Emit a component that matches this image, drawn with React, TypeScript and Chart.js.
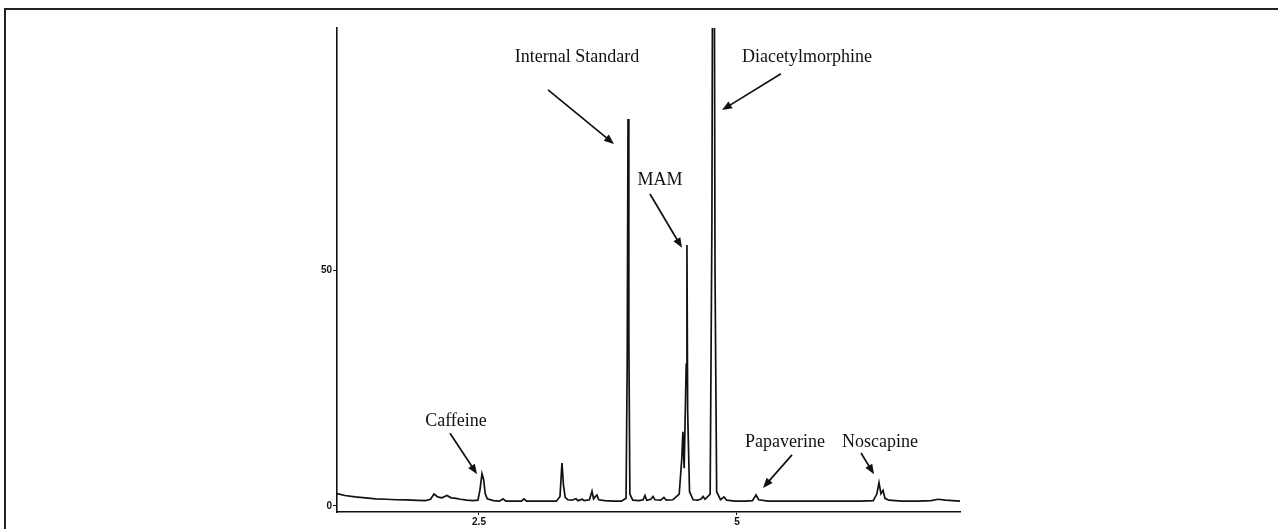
import React, { useEffect, useRef } from "react";
import { Chart, registerables } from "chart.js";

Chart.register(...registerables);

// Retention time (min) and detector response
const times = [
  1.124, 1.2, 1.3, 1.4, 1.5, 1.6, 1.7, 1.8, 1.9, 1.98, 2.03, 2.064, 2.1, 2.14, 2.19, 2.23, 2.277, 2.32, 2.38, 2.44,
  2.49, 2.51, 2.529, 2.545, 2.56, 2.58, 2.64, 2.7, 2.733, 2.76, 2.84, 2.91, 2.936, 2.96, 3.05, 3.15, 3.25, 3.285,
  3.304, 3.318, 3.335, 3.36, 3.4, 3.44, 3.46, 3.5, 3.52, 3.57, 3.595, 3.61, 3.625, 3.643, 3.66, 3.72, 3.8, 3.88,
  3.925, 3.936, 3.944, 3.952, 3.962, 3.99, 4.05, 4.09, 4.108, 4.125, 4.165, 4.186, 4.205, 4.26, 4.292, 4.315, 4.38,
  4.44, 4.465, 4.476, 4.488, 4.508, 4.515, 4.522, 4.54, 4.575, 4.62, 4.655, 4.671, 4.69, 4.74, 4.757, 4.767,
  4.777, 4.787, 4.803, 4.84, 4.874, 4.9, 4.98, 5.08, 5.15, 5.184, 5.21, 5.3, 5.45, 5.6, 5.75, 5.9, 6.05, 6.2, 6.32,
  6.355, 6.376, 6.395, 6.415, 6.434, 6.47, 6.6, 6.75, 6.88, 6.95, 7.02, 7.161,
];
const signal = [
  2.6, 2.2, 1.9, 1.7, 1.5, 1.4, 1.3, 1.25, 1.15, 1.1, 1.4, 2.5, 1.9, 1.7, 2.2, 1.7, 1.6, 1.4, 1.2, 1.1,
  1.2, 3.5, 6.8, 5.6, 2.6, 1.5, 1.1, 1.0, 1.5, 1.0, 1.0, 1.0, 1.5, 1.0, 1.0, 1.0, 1.0, 2.0,
  9.1, 4.5, 1.8, 1.3, 1.2, 1.5, 1.1, 1.4, 1.1, 1.3, 3.1, 1.5, 1.9, 2.3, 1.3, 1.1, 1.0, 1.0,
  1.6, 30, 82, 36, 2.5, 1.2, 1.1, 1.3, 2.2, 1.2, 1.4, 2.0, 1.3, 1.2, 1.8, 1.2, 1.3,
  2.5, 10, 15.7, 8, 30, 55.3, 20, 3, 1.3, 1.2, 1.5, 2.0, 1.4, 2.5, 60, 150,
  150, 50, 3, 1.3, 1.9, 1.2, 1.0, 1.0, 1.1, 2.3, 1.3, 1.0, 1.0, 1.0, 1.0, 1.0, 1.0, 1.0, 1.1,
  2.5, 4.9, 2.6, 3.3, 1.6, 1.2, 1.0, 1.0, 1.1, 1.4, 1.2, 1.0,
];

const xTickValues = [2.5, 5];
const xTickLabels = ["2.5", "5"];
const yTickValues = [0, 50];
const yTickLabels = ["0", "50"];

// Peak annotations (data units)
const annoLabels = ["Internal Standard", "MAM", "Diacetylmorphine", "Caffeine", "Papaverine", "Noscapine"];
const annoTextX = [3.45, 4.254, 5.678, 2.277, 5.465, 6.386];
const annoTextY = [95.2, 69.1, 95.2, 18.0, 13.5, 13.5];
const arrowFromX = [3.169, 4.157, 5.426, 2.219, 5.533, 6.202];
const arrowFromY = [88.2, 66.1, 91.6, 15.4, 10.8, 11.2];
const arrowToX = [3.808, 4.467, 4.855, 2.481, 5.252, 6.328];
const arrowToY = [76.7, 54.7, 83.9, 6.7, 3.8, 6.7];

const annotationPlugin = {
  id: "peakAnnotations",
  afterDatasetsDraw(chart: any) {
    const { ctx, scales } = chart;
    const xs = scales.x;
    const ys = scales.y;
    ctx.save();
    ctx.fillStyle = "#111";
    ctx.strokeStyle = "#111";
    ctx.font = '18px "Liberation Serif", "Times New Roman", serif';
    ctx.textAlign = "center";
    ctx.textBaseline = "middle";
    for (let i = 0; i < annoLabels.length; i++) {
      ctx.fillText(annoLabels[i], xs.getPixelForValue(annoTextX[i]), ys.getPixelForValue(annoTextY[i]));
      const x1 = xs.getPixelForValue(arrowFromX[i]);
      const y1 = ys.getPixelForValue(arrowFromY[i]);
      const x2 = xs.getPixelForValue(arrowToX[i]);
      const y2 = ys.getPixelForValue(arrowToY[i]);
      const ang = Math.atan2(y2 - y1, x2 - x1);
      const head = 10;
      const hw = 4;
      ctx.lineWidth = 1.7;
      ctx.beginPath();
      ctx.moveTo(x1, y1);
      ctx.lineTo(x2 - Math.cos(ang) * head * 0.8, y2 - Math.sin(ang) * head * 0.8);
      ctx.stroke();
      ctx.beginPath();
      ctx.moveTo(x2, y2);
      ctx.lineTo(
        x2 - Math.cos(ang) * head + Math.sin(ang) * hw,
        y2 - Math.sin(ang) * head - Math.cos(ang) * hw
      );
      ctx.lineTo(
        x2 - Math.cos(ang) * head - Math.sin(ang) * hw,
        y2 - Math.sin(ang) * head + Math.cos(ang) * hw
      );
      ctx.closePath();
      ctx.fill();
    }
    ctx.restore();
  },
};

export default function App() {
  const canvasRef = useRef<HTMLCanvasElement | null>(null);

  useEffect(() => {
    if (!canvasRef.current) return;
    const points = times.map((t, i) => ({ x: t, y: signal[i] }));
    const chart = new Chart(canvasRef.current, {
      type: "line",
      data: {
        datasets: [
          {
            data: points,
            borderColor: "#111",
            borderWidth: 1.7,
            pointRadius: 0,
            tension: 0,
            fill: false,
          },
        ],
      },
      options: {
        animation: false,
        responsive: false,
        maintainAspectRatio: false,
        events: [],
        layout: { padding: { left: 297, right: 318, top: 28, bottom: 0 } },
        plugins: { legend: { display: false }, tooltip: { enabled: false }, title: { display: false } },
        scales: {
          x: {
            type: "linear",
            min: 1.124,
            max: 7.161,
            afterFit: (s: any) => {
              s.height = 17;
            },
            afterBuildTicks: (s: any) => {
              s.ticks = xTickValues.map((v) => ({ value: v }));
            },
            border: { display: true, color: "#111", width: 1.6 },
            grid: { display: true, drawOnChartArea: false, drawTicks: true, tickLength: 3, color: "#111" },
            ticks: {
              padding: 1,
              color: "#111",
              font: { family: '"Liberation Sans", Arial, sans-serif', size: 10, weight: "bold" },
              maxRotation: 0,
              callback: (v: any) => {
                const idx = xTickValues.indexOf(Number(v));
                return idx >= 0 ? xTickLabels[idx] : "";
              },
            },
          },
          y: {
            type: "linear",
            min: -1.3,
            max: 101.3,
            afterFit: (s: any) => {
              s.width = 40;
            },
            afterBuildTicks: (s: any) => {
              s.ticks = yTickValues.map((v) => ({ value: v }));
            },
            border: { display: true, color: "#111", width: 1.6 },
            grid: { display: true, drawOnChartArea: false, drawTicks: true, tickLength: 4, color: "#111" },
            ticks: {
              padding: 1,
              color: "#111",
              font: { family: '"Liberation Sans", Arial, sans-serif', size: 10, weight: "bold" },
              callback: (v: any) => {
                const idx = yTickValues.indexOf(Number(v));
                return idx >= 0 ? yTickLabels[idx] : "";
              },
            },
          },
        },
      },
      plugins: [annotationPlugin],
    });
    return () => chart.destroy();
  }, []);

  return (
    <div style={{ position: "fixed", left: 0, top: 0, width: 1278, height: 529, background: "#fff", overflow: "hidden" }}>
      <div
        style={{
          position: "absolute",
          left: 4,
          top: 8,
          width: 1300,
          height: 600,
          borderTop: "2px solid #222",
          borderLeft: "2px solid #222",
        }}
      />
      <canvas ref={canvasRef} width={1278} height={529} style={{ position: "absolute", left: 0, top: 0 }} />
    </div>
  );
}
